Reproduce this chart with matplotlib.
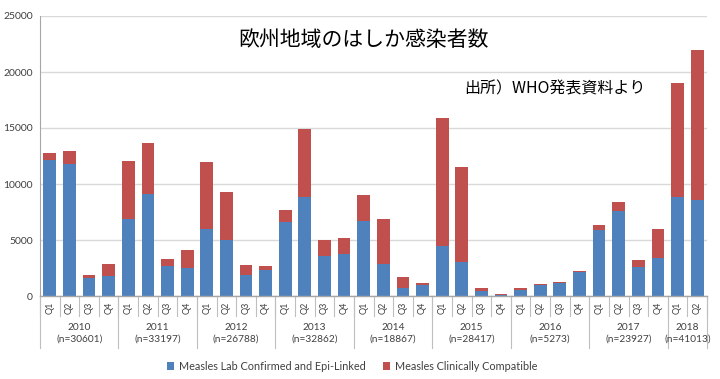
import matplotlib
matplotlib.use("Agg")
import matplotlib.pyplot as plt
import numpy as np

years = ["2010", "2011", "2012", "2013", "2014", "2015", "2016", "2017", "2018"]
year_n = ["(n=30601)", "(n=33197)", "(n=26788)", "(n=32862)", "(n=18867)",
          "(n=28417)", "(n=5273)", "(n=23927)", "(n=41013)"]
quarters_per_year = [4, 4, 4, 4, 4, 4, 4, 4, 2]

lab_confirmed = [12100, 11800, 1600, 1800,
                 6850, 9100, 2700, 2500,
                 6000, 5000, 1850, 2350,
                 6600, 8800, 3600, 3750,
                 6700, 2850, 750, 950,
                 4450, 3050, 450, 120,
                 580, 960, 1150, 2120,
                 5900, 7600, 2550, 3400,
                 8800, 8570]
clinically_compatible = [650, 1150, 300, 1100,
                         5200, 4600, 600, 1600,
                         6000, 4250, 950, 300,
                         1100, 6150, 1400, 1400,
                         2300, 4000, 950, 250,
                         11400, 8450, 300, 100,
                         100, 140, 70, 110,
                         400, 780, 650, 2620,
                         10200, 13430]

q_labels = []
for nq in quarters_per_year:
    q_labels += ["Q%d" % (i + 1) for i in range(nq)]

plt.rcParams["font.family"] = ["Lato", "Noto Sans CJK JP", "DejaVu Sans"]

BLUE = "#4F81BD"
RED = "#C0504D"
GRID = "#D9D9D9"
SEP = "#BFBFBF"
TXT = "#404040"

fig = plt.figure(figsize=(7.2, 3.79), dpi=100)
ax = fig.add_axes([40 / 720, 83 / 379, 667 / 720, 280 / 379])

x = np.arange(len(lab_confirmed))
ax.bar(x, lab_confirmed, width=0.65, color=BLUE, zorder=3,
       label="Measles Lab Confirmed and Epi-Linked")
ax.bar(x, clinically_compatible, width=0.65, bottom=lab_confirmed, color=RED,
       zorder=3, label="Measles Clinically Compatible")

ax.set_xlim(-0.5, len(x) - 0.5)
ax.set_ylim(0, 25000)
ax.set_yticks(range(0, 25001, 5000))
ax.yaxis.grid(True, color=GRID, linewidth=1, zorder=0)
ax.tick_params(axis="y", length=0, pad=5, labelsize=7.5, labelcolor=TXT)
for s in ["top", "right", "bottom"]:
    ax.spines[s].set_visible(False)
ax.spines["left"].set_color("#A6A6A6")
ax.axhline(0, color="#A6A6A6", linewidth=1, zorder=4, clip_on=False)

ax.set_xticks(x)
ax.set_xticklabels(q_labels, rotation=90, fontsize=6.5, color=TXT)
ax.tick_params(axis="x", length=0, pad=4)

# multi-level category axis separators
trans = ax.get_xaxis_transform()
short = -20 / 280
long = -52 / 280
bounds = np.concatenate([[0], np.cumsum(quarters_per_year)]) - 0.5
for b in np.arange(-0.5, len(x), 1.0):
    ax.plot([b, b], [0, short], color=SEP, lw=0.8, transform=trans, clip_on=False)
for b in bounds:
    ax.plot([b, b], [0, long], color=SEP, lw=0.8, transform=trans, clip_on=False)
for i, (yr, n) in enumerate(zip(years, year_n)):
    c = (bounds[i] + bounds[i + 1]) / 2
    ax.text(c, -32 / 280, yr, transform=trans, ha="center", va="center",
            fontsize=7.3, color=TXT)
    ax.text(c, -43 / 280, n, transform=trans, ha="center", va="center",
            fontsize=7.3, color=TXT)

fig.text(363 / 720, 1 - 40 / 379, "欧州地域のはしか感染者数", ha="center", va="center",
         fontsize=15, family=["Noto Sans CJK JP"])
fig.text(555 / 720, 1 - 89 / 379, "出所）WHO発表資料より", ha="center", va="center",
         fontsize=11.5, family=["Noto Sans CJK JP"])

fig.legend(loc="center", bbox_to_anchor=(352 / 720, 1 - 366 / 379), ncol=2,
           frameon=False, fontsize=7.8, handlelength=0.7, handleheight=0.7,
           handletextpad=0.4, columnspacing=1.6, labelcolor=TXT)

fig.savefig("out.png", dpi=100)
